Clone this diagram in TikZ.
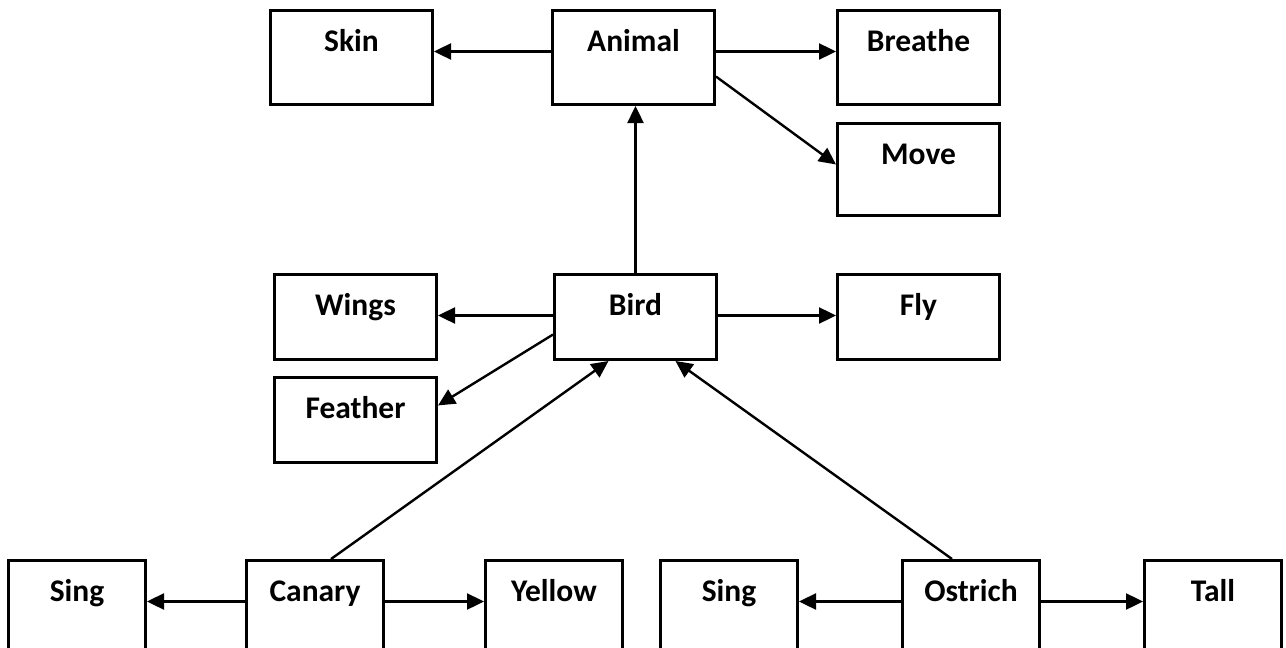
\documentclass[tikz,border=0pt]{standalone}
\usepackage{fontspec}
\setmainfont{Carlito}
\usetikzlibrary{arrows.meta}
\tikzset{
  box/.style={draw,line width=3pt,anchor=north west,inner ysep=0pt,
    text height=41pt,text depth=#1,minimum width=162pt,
    font=\bfseries\fontsize{31.5}{32}\selectfont},
  box/.default=53pt,
  small/.style={minimum width=137pt}
}
\begin{document}
\begin{tikzpicture}[x=1pt,y=-1pt,line width=2.4pt,>={Triangle[length=17pt,width=16pt]}]
    \useasboundingbox(0,0)rectangle(1286,648);
    \node[box](skin)at(269,9){Skin};
    \node[box](animal)at(551,9){Animal};
    \node[box](breathe)at(836,9){Breathe};
    \node[box=51pt](move)at(836,122){Move};
    \node[box=44pt](wings)at(273,273){Wings};
    \node[box=44pt](bird)at(553,273){Bird};
    \node[box=44pt](fly)at(836,273){Fly};
    \node[box=44pt](feather)at(273,376){Feather};
    \node[box=52pt,small](singc)at(7,559){Sing};
    \node[box=52pt,small](canary)at(245,559){Canary};
    \node[box=52pt,small](yellow)at(484,559){Yellow};
    \node[box=52pt,small](singo)at(659,559){Sing};
    \node[box=52pt,small](ostrich)at(901,559){Ostrich};
    \node[box=52pt,small](tall)at(1143,559){Tall};
    \draw[->](animal.base west)--(skin.base east);
    \draw[->](animal.base east)--(breathe.base west);
    \draw[->](animal.-13)--(move.base west);
    \draw[->](bird.north)--(bird.north|-animal.south);
    \draw[->](bird.base west)--(wings.base east);
    \draw[->](bird.base east)--(fly.base west);
    \draw[->](bird.192)--(feather.10);
    \draw[->]([xshift=16pt]canary.north)--([xshift=-27pt]bird.south);
    \draw[->]([xshift=-19pt]ostrich.north)--([xshift=40pt]bird.south);
    \draw[->](canary.base west)--(singc.base east);
    \draw[->](canary.base east)--(yellow.base west);
    \draw[->](ostrich.base west)--(singo.base east);
    \draw[->](ostrich.base east)--(tall.base west);
\end{tikzpicture}
\end{document}
